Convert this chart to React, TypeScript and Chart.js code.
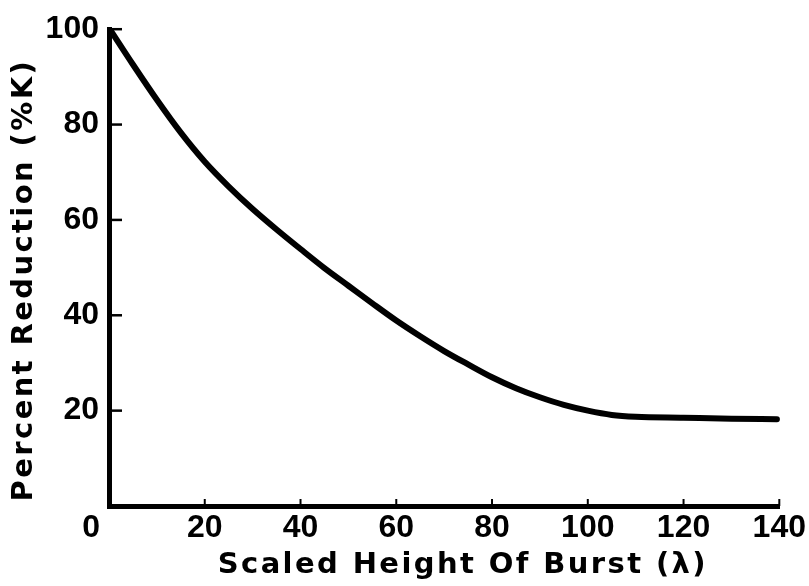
import React, { useEffect, useRef } from 'react';
import { Chart, registerables } from 'chart.js';

Chart.register(...registerables);

// Scaled height of burst (lambda)
const heights = [0.5, 5, 10, 15, 20, 25, 30, 35, 40, 45, 50, 55, 60, 65, 70, 75, 80, 85, 90, 95, 100, 105, 110, 120, 130, 139.5];
// Percent reduction (%K)
const reductions = [99.5, 92.6, 85.2, 78.3, 72.2, 67.0, 62.3, 58.0, 53.9, 49.9, 46.2, 42.5, 38.9, 35.6, 32.5, 29.7, 27.0, 24.7, 22.8, 21.2, 20.0, 19.1, 18.7, 18.5, 18.3, 18.2];

const xTicks = [0, 20, 40, 60, 80, 100, 120, 140];
const yTicks = [20, 40, 60, 80, 100];

const xTitle = 'Scaled Height Of Burst (λ)';
const yTitle = 'Percent Reduction (%K)';

const tickFont = { family: '"Liberation Sans", Arial, sans-serif', size: 32, weight: 'bold' as const };
const titleFont = { family: '"DejaVu Sans", "Liberation Sans", sans-serif', size: 29, weight: 'bold' as const };

const tracking = {
  id: 'tracking',
  beforeDraw(chart: any) {
    chart.ctx.letterSpacing = '2.4px';
  },
  beforeDatasetsDraw(chart: any) {
    chart.ctx.letterSpacing = '0px';
  },
  afterDraw(chart: any) {
    chart.ctx.letterSpacing = '0px';
  },
};

const tickMarks = {
  id: 'tickMarks',
  afterDraw(chart: any) {
    const { ctx, chartArea } = chart;
    const x = chart.scales.x;
    const y = chart.scales.y;
    ctx.save();
    ctx.strokeStyle = '#000';
    ctx.lineWidth = 2.5;
    yTicks.forEach((v) => {
      const py = y.getPixelForValue(v);
      ctx.beginPath();
      ctx.moveTo(chartArea.left, py);
      ctx.lineTo(chartArea.left + 13, py);
      ctx.stroke();
    });
    ctx.lineWidth = 2;
    xTicks.filter((v) => v > 0).forEach((v) => {
      const px = x.getPixelForValue(v);
      ctx.beginPath();
      ctx.moveTo(px, chartArea.bottom);
      ctx.lineTo(px, chartArea.bottom - 7);
      ctx.stroke();
    });
    ctx.restore();
  },
};

export default function App() {
  const ref = useRef<HTMLCanvasElement>(null);

  useEffect(() => {
    document.body.style.margin = '0';
    const chart = new Chart(ref.current as HTMLCanvasElement, {
      type: 'line',
      data: {
        datasets: [
          {
            data: heights.map((h, i) => ({ x: h, y: reductions[i] })),
            borderColor: '#000',
            borderWidth: 6,
            borderCapStyle: 'round',
            borderJoinStyle: 'round',
            pointRadius: 0,
            cubicInterpolationMode: 'monotone',
            fill: false,
            clip: false as any,
          },
        ],
      },
      options: {
        responsive: false,
        animation: false,
        events: [],
        layout: { padding: { top: 27, right: 27, left: 0, bottom: 0 } },
        plugins: {
          legend: { display: false },
          tooltip: { enabled: false },
        },
        scales: {
          x: {
            type: 'linear',
            min: 0,
            max: 140,
            afterFit: (s: any) => {
              s.height = 80;
            },
            afterBuildTicks: (s: any) => {
              s.ticks = xTicks.map((v) => ({ value: v }));
            },
            grid: { display: false, drawTicks: false },
            border: { display: true, color: '#000', width: 5 },
            ticks: {
              z: 1,
              color: '#000',
              font: tickFont,
              padding: 3,
              maxRotation: 0,
              autoSkip: false,
              callback: (v: any) => (Number(v) === 0 ? '0    ' : String(v)),
            },
            title: {
              display: true,
              text: '   ' + xTitle,
              color: '#000',
              font: titleFont,
              padding: { top: 0, bottom: 3 },
            },
          },
          y: {
            type: 'linear',
            min: 0,
            max: 100,
            afterFit: (s: any) => {
              s.width = 109;
            },
            afterBuildTicks: (s: any) => {
              s.ticks = [0, ...yTicks].map((v) => ({ value: v }));
            },
            grid: { display: false, drawTicks: false },
            border: { display: true, color: '#000', width: 5 },
            ticks: {
              z: 1,
              color: '#000',
              font: tickFont,
              padding: 10,
              autoSkip: false,
              callback: (v: any) => (Number(v) === 0 ? '' : String(v)),
            },
            title: {
              display: true,
              text: yTitle + '  ',
              color: '#000',
              font: titleFont,
              padding: { top: 7, bottom: 0 },
            },
          },
        },
      },
      plugins: [tracking, tickMarks],
    } as any);
    return () => chart.destroy();
  }, []);

  return (
    <div style={{ position: 'absolute', left: 0, top: 0, width: 809, height: 586, background: '#fff' }}>
      <canvas ref={ref} width={809} height={586} style={{ display: 'block' }} />
    </div>
  );
}
